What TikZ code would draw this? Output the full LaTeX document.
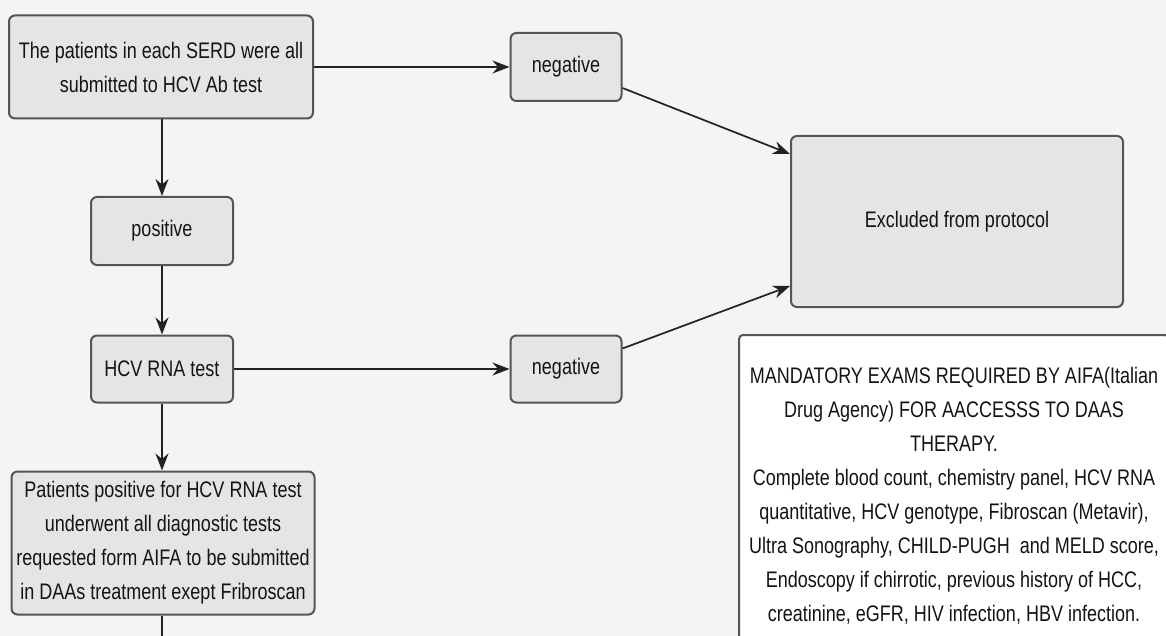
\documentclass[tikz,border=0pt]{standalone}
\usepackage{fontspec}
\setmainfont[FakeStretch=0.80]{Liberation Sans}
\usetikzlibrary{arrows.meta,calc}
\definecolor{bg}{HTML}{F4F4F4}
\definecolor{boxfill}{HTML}{E5E5E5}
\definecolor{boxdraw}{HTML}{555555}
\definecolor{linecol}{HTML}{222222}
\begin{document}
\begin{tikzpicture}[x=1pt,y=-1pt,
  box/.style={draw=boxdraw,line width=2pt,fill=boxfill,rounded corners=6pt,
    inner sep=0pt,align=center,font={\fontsize{22.5}{34}\selectfont},text=black!92},
  wbox/.style={box,fill=white,rounded corners=4pt},
  conn/.style={draw=linecol,line width=1.7pt,-{Stealth[length=17pt,width=13pt]}},
  plain/.style={draw=linecol,line width=1.7pt}]
\clip (0,0) rectangle (1166,636);
\fill[bg] (0,0) rectangle (1166,636);
\node[box,minimum width=304pt,minimum height=103pt] (b1) at (161,67)
  {The patients in each SERD were all\\submitted to HCV Ab test};
\node[box,minimum width=111pt,minimum height=68pt] (n1) at (566,67) {negative};
\node[box,minimum width=142pt,minimum height=68pt] (pos) at (162,231) {positive};
\node[box,minimum width=142pt,minimum height=67pt] (rna) at (162,369) {HCV RNA test};
\node[box,minimum width=111pt,minimum height=67pt] (n2) at (566,369) {negative};
\node[box,minimum width=332pt,minimum height=171pt] (ex) at (957,221.5) {Excluded from protocol};
\node[box,minimum width=303pt,minimum height=143pt] (pp) at (163,543)
  {Patients positive for HCV RNA test\\underwent all diagnostic tests\\requested form AIFA to be submitted\\in DAAs treatment exept Fribroscan};
\node[wbox,minimum width=430pt,minimum height=322pt] (md) at (954,496)
  {MANDATORY EXAMS REQUIRED BY AIFA(Italian\\Drug Agency) FOR AACCESSS TO DAAS\\THERAPY.\\Complete blood count, chemistry panel, HCV RNA\\quantitative, HCV genotype, Fibroscan (Metavir),\\Ultra Sonography, CHILD-PUGH\ \ and MELD score,\\Endoscopy if chirrotic, previous history of HCC,\\creatinine, eGFR, HIV infection, HBV infection.};
\coordinate (end) at (162,650);
\draw[conn] (b1.east) -- (n1.west);
\draw[conn] (b1.south -| pos.north) -- (pos.north);
\draw[conn] (pos.south) -- (rna.north);
\draw[conn] (rna.east) -- (n2.west);
\draw[conn] (rna.south) -- (rna.south |- pp.north);
\draw[conn] ($(n1.south east)+(0,-14)$) -- ($(ex.north west)+(0,19)$);
\draw[conn] ($(n2.north east)+(0,14)$) -- ($(ex.south west)+(0,-22)$);
\draw[plain] (pp.south -| rna.south) -- (end);
\end{tikzpicture}
\end{document}
